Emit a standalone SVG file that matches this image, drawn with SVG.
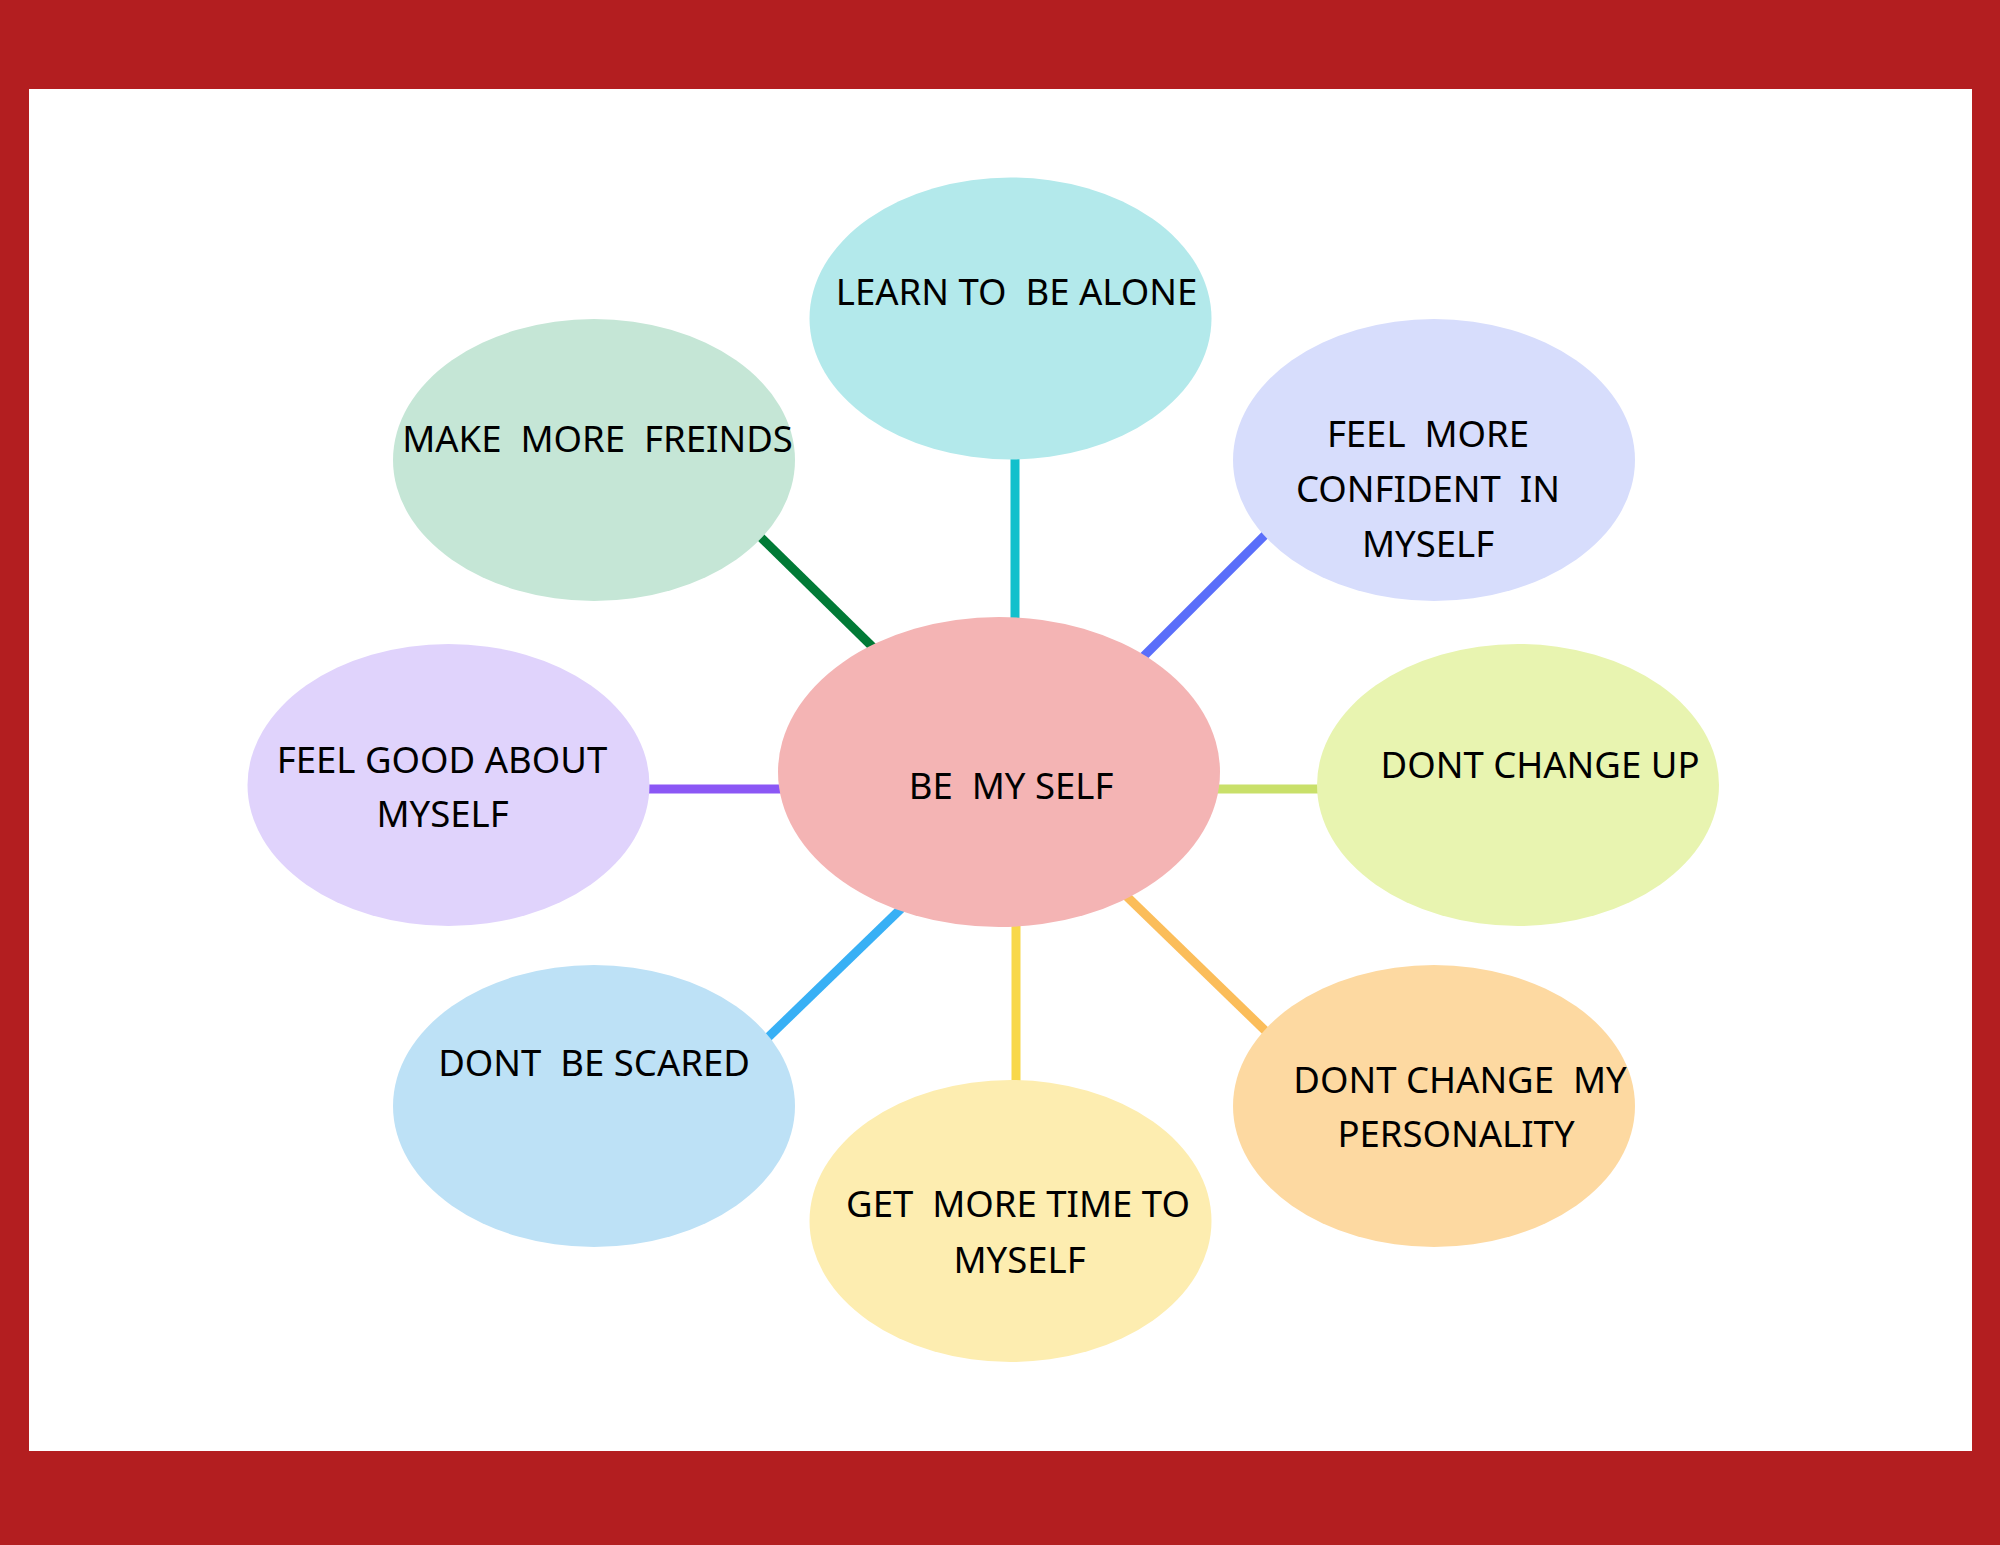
<svg xmlns="http://www.w3.org/2000/svg" width="2000" height="1545" viewBox="0 0 2000 1545">
<style>
  .lbl { font-family: "Noto Sans", "Open Sans", sans-serif; font-size: 36.5px; fill: #000; text-anchor: middle; white-space: pre; }
  .con { stroke-width: 9; fill: none; }
</style>
<rect id="frame" x="0" y="0" width="2000" height="1545" fill="#B31E20"/>
<rect id="page" x="29" y="89" width="1943" height="1362" fill="#FFFFFF"/>
<g id="connectors">
  <line class="con" x1="1015" y1="440" x2="1015" y2="640" stroke="#12C0CC"/>
  <line class="con" x1="740" y1="517" x2="890" y2="664" stroke="#017A36"/>
  <line class="con" x1="1280" y1="520" x2="1130" y2="670" stroke="#5A6EFA"/>
  <line class="con" x1="630" y1="789" x2="800" y2="789" stroke="#8B57F5"/>
  <line class="con" x1="1200" y1="789" x2="1340" y2="789" stroke="#C9E06A"/>
  <line class="con" x1="910" y1="900" x2="755" y2="1050" stroke="#38B0F5"/>
  <line class="con" x1="1016" y1="900" x2="1016" y2="1100" stroke="#F8D84A"/>
  <line class="con" x1="1115" y1="885" x2="1280" y2="1045" stroke="#FBBD5A"/>
</g>
<g id="node-center">
  <ellipse cx="999" cy="772" rx="221" ry="155" fill="#F4B4B4"/>
  <text class="lbl" xml:space="preserve" x="1011" y="799">BE  MY SELF</text>
</g>
<g id="node-learn">
  <ellipse cx="1010.5" cy="318.5" rx="201" ry="141" fill="#B3E9EB"/>
  <text class="lbl" xml:space="preserve" x="1016.5" y="305">LEARN TO  BE ALONE</text>
</g>
<g id="node-friends">
  <ellipse cx="594" cy="460" rx="201" ry="141" fill="#C5E6D6"/>
  <text class="lbl" xml:space="preserve" x="597.5" y="452">MAKE  MORE  FREINDS</text>
</g>
<g id="node-confident">
  <ellipse cx="1434" cy="460" rx="201" ry="141" fill="#D7DDFC"/>
  <text class="lbl" xml:space="preserve" x="1428" y="447">FEEL  MORE</text>
  <text class="lbl" xml:space="preserve" x="1428" y="502">CONFIDENT  IN</text>
  <text class="lbl" xml:space="preserve" x="1428" y="557">MYSELF</text>
</g>
<g id="node-feelgood">
  <ellipse cx="448.5" cy="785" rx="201" ry="141" fill="#E0D3FC"/>
  <text class="lbl" xml:space="preserve" x="442" y="773">FEEL GOOD ABOUT</text>
  <text class="lbl" xml:space="preserve" x="442.5" y="827">MYSELF</text>
</g>
<g id="node-changeup">
  <ellipse cx="1518" cy="785" rx="201" ry="141" fill="#E8F4B0"/>
  <text class="lbl" xml:space="preserve" x="1540" y="778">DONT CHANGE UP</text>
</g>
<g id="node-scared">
  <ellipse cx="594" cy="1106" rx="201" ry="141" fill="#BDE1F6"/>
  <text class="lbl" xml:space="preserve" x="594" y="1076">DONT  BE SCARED</text>
</g>
<g id="node-time">
  <ellipse cx="1010.5" cy="1221" rx="201" ry="141" fill="#FDEDB0"/>
  <text class="lbl" xml:space="preserve" x="1018" y="1217">GET  MORE TIME TO</text>
  <text class="lbl" xml:space="preserve" x="1019.5" y="1273">MYSELF</text>
</g>
<g id="node-personality">
  <ellipse cx="1434" cy="1106" rx="201" ry="141" fill="#FDD9A1"/>
  <text class="lbl" xml:space="preserve" x="1460" y="1093">DONT CHANGE  MY</text>
  <text class="lbl" xml:space="preserve" x="1456" y="1147">PERSONALITY</text>
</g>
</svg>
